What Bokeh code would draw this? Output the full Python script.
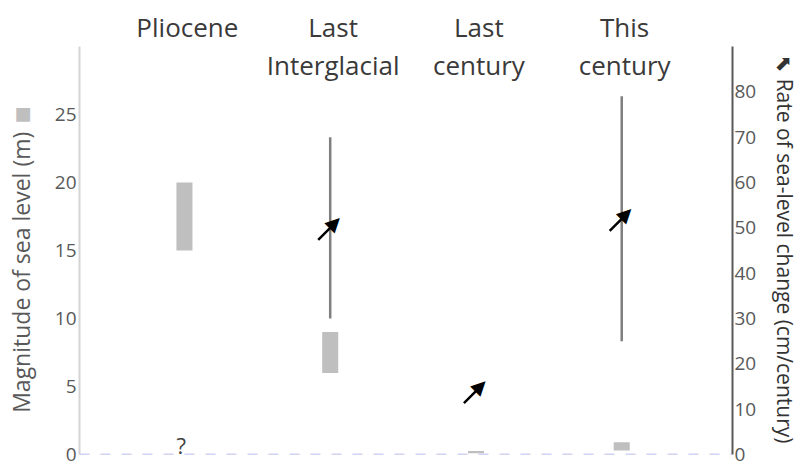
import math
from bokeh.plotting import figure
from bokeh.models import (FactorRange, Range1d, LinearAxis, FixedTicker, Span, Title,
                          ColumnDataSource)
from bokeh.transform import dodge
from bokeh.core.properties import value
from bokeh.embed import file_html
from bokeh.resources import INLINE

# ---------------- data ----------------
periods = ["Pliocene", "Last Interglacial", "Last century", "This century"]
period_labels = ["Pliocene", "Last\nInterglacial", "Last\ncentury", "This\ncentury"]

# magnitude of sea level (m), grey bars, left axis
mag_low = [15, 6, 0.1, 0.3]
mag_high = [20, 9, 0.25, 0.9]

# rate of sea-level change (cm/century), vertical lines, right axis
rate_periods = ["Last Interglacial", "This century"]
rate_low = [30, 25]
rate_high = [70, 79]

# central rate estimates (arrows)
arrow_periods = ["Last Interglacial", "Last century", "This century"]
rate_central = [50, 14, 52]

unknown_periods = ["Pliocene"]

left_ticks = [0, 5, 10, 15, 20, 25]
right_ticks = [0, 10, 20, 30, 40, 50, 60, 70, 80]
mag_axis_max = 30
rate_axis_max = 90
left_title = "Magnitude of sea level (m)"
right_title = "\u2b09 Rate of sea-level change (cm/century)"

# ---------------- figure ----------------
NBSP = "\u00a0"
top_extra = 454 / 408  # headroom above the axis ends for the period titles
p = figure(width=803, height=462, output_backend="svg", toolbar_location=None,
           x_range=FactorRange(*periods, range_padding=0.12),
           y_range=Range1d(0, mag_axis_max * top_extra),
           x_axis_location=None,
           min_border_left=79, min_border_right=71,
           min_border_top=0, min_border_bottom=8)
p.extra_y_ranges = {"rate": Range1d(0, rate_axis_max * top_extra)}
p.grid.visible = False
p.outline_line_color = None
p.background_fill_color = "white"
p.border_fill_color = "white"

FONT = "Open Sans"

ly = p.yaxis[0]
ly.ticker = FixedTicker(ticks=left_ticks)
ly.bounds = (0, mag_axis_max)
ly.axis_line_color = "#d4d4d4"
ly.axis_line_width = 2
ly.major_tick_line_color = None
ly.minor_tick_line_color = None
ly.major_tick_out = 0
ly.minor_tick_out = 0
ly.major_label_text_font = FONT
ly.major_label_text_font_size = "19px"
ly.major_label_text_color = "#595959"
ly.major_label_standoff = 3
# trailing no-break spaces move the centred title down along the axis
ly.axis_label = left_title + NBSP * 15
ly.axis_label_standoff = 15
ly.axis_label_text_font = FONT
ly.axis_label_text_font_size = "23px"
ly.axis_label_text_font_style = "normal"
ly.axis_label_text_color = "#595959"

ry = LinearAxis(y_range_name="rate", ticker=FixedTicker(ticks=right_ticks),
                bounds=(0, rate_axis_max))
ry.axis_line_color = "#595959"
ry.axis_line_width = 2
ry.major_tick_line_color = None
ry.minor_tick_line_color = None
ry.major_tick_out = 0
ry.minor_tick_out = 0
ry.major_label_text_font = FONT
ry.major_label_text_font_size = "19px"
ry.major_label_text_color = "#595959"
ry.major_label_standoff = 2
ry.axis_label = NBSP * 8 + right_title
ry.axis_label_standoff = 12
ry.axis_label_text_font = FONT
ry.axis_label_text_font_size = "21px"
ry.axis_label_text_font_style = "normal"
ry.axis_label_text_color = "#333333"
p.add_layout(ry, "right")

# legend swatch for the grey bars, next to the left title
p.add_layout(Title(text="\u25a0", align="right", offset=106,
                   vertical_align="bottom", standoff=-61, text_font="DejaVu Sans",
                   text_font_size="18px", text_font_style="normal",
                   text_color="#bfbfbf"), "left")

# dashed baseline
p.add_layout(Span(location=0, dimension="width", line_color="#a5a5e6",
                  line_width=1.5, line_dash="10 11"))

MARK_SHIFT = -0.02  # marks sit slightly left of the period titles

# magnitude bars
mag_src = ColumnDataSource(dict(period=periods, low=mag_low, high=mag_high))
p.vbar(x=dodge("period", MARK_SHIFT, range=p.x_range), bottom="low", top="high",
       width=0.11, fill_color="#bfbfbf", line_color=None, source=mag_src)

# rate ranges
rate_src = ColumnDataSource(dict(period=rate_periods, low=rate_low, high=rate_high))
p.segment(x0=dodge("period", MARK_SHIFT, range=p.x_range), y0="low",
          x1=dodge("period", MARK_SHIFT, range=p.x_range), y1="high",
          line_color="#7f7f7f", line_width=2.5, y_range_name="rate", source=rate_src)

# arrows for central rates
arr_src = ColumnDataSource(dict(period=arrow_periods, rate=rate_central,
                                head=["\u25b2"] * len(arrow_periods)))
arr_x = dodge("period", MARK_SHIFT, range=p.x_range)
p.ray(x=arr_x, y="rate", length=17, angle=5 * math.pi / 4, length_units="screen",
      line_color="black", line_width=2.5, y_range_name="rate", source=arr_src)
p.ray(x=arr_x, y="rate", length=4, angle=math.pi / 4, length_units="screen",
      line_color="black", line_width=2.5, y_range_name="rate", source=arr_src)
p.text(x=arr_x, y="rate", text="head", angle=-math.pi / 4, x_offset=6, y_offset=-6,
       text_align="center", text_baseline="middle", text_font=value("DejaVu Sans"),
       text_font_size="19px", text_color="black", y_range_name="rate", source=arr_src)

# unknown rate
p.text(x=unknown_periods, y=[0] * len(unknown_periods), text=["?"] * len(unknown_periods),
       x_offset=-6, y_offset=5, text_align="center", text_baseline="bottom",
       text_font=value(FONT), text_font_size="22px", text_color="#404040",
       y_range_name="rate")

# period titles
p.text(x=periods, y=[mag_axis_max * top_extra] * len(periods), text=period_labels,
       y_offset=8, text_align="center", text_baseline="top",
       text_font=value(FONT), text_font_size="26px", text_color="#3a3a3a",
       text_line_height=1.08)

open("out.html", "w").write(file_html(p, INLINE))
